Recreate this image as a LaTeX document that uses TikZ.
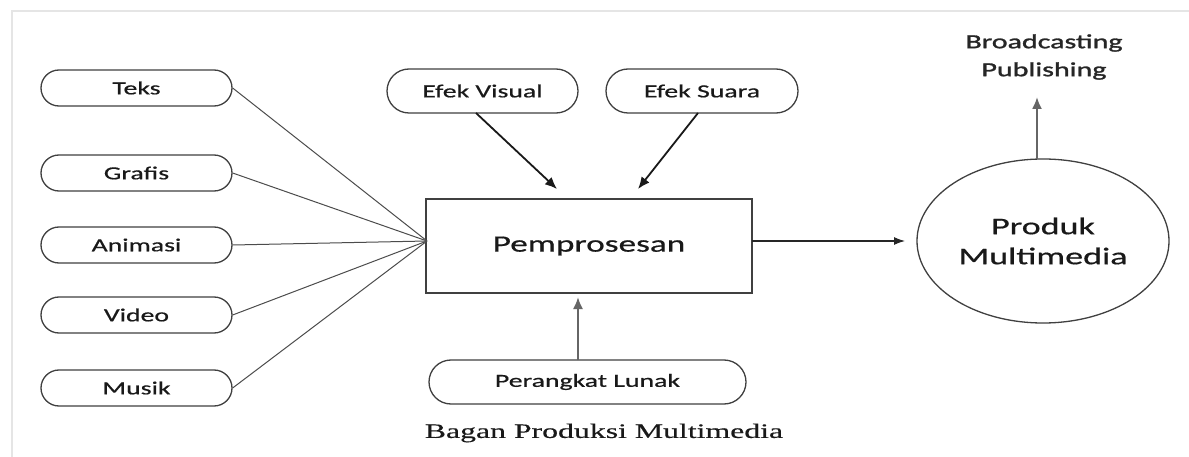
\documentclass[tikz,border=0pt]{standalone}
\usepackage{fontspec}
\setmainfont{Carlito}
\newfontfamily\labfont[FakeStretch=1.5,FakeBold=0.6]{Carlito}
\newfontfamily\headfont[FakeStretch=1.5,FakeBold=1.4]{Carlito}
\newfontfamily\capfont[FakeStretch=1.55,FakeBold=0.4]{Liberation Serif}
\usetikzlibrary{arrows.meta,shapes.geometric}
\begin{document}
\begin{tikzpicture}[x=1pt,y=-1pt,
  pill/.style={draw=black!75, line width=1.3pt, rounded corners=18pt,
    minimum width=191pt, minimum height=36pt, inner sep=0pt,
    font=\labfont\fontsize{18.5}{22}\selectfont, text=black!90},
  bigpill/.style={pill, minimum height=44pt, rounded corners=22pt},
  feed/.style={draw=black!70, line width=1pt},
  thickarrow/.style={draw=black!90, line width=1.8pt, -{Latex[length=12pt,width=10pt]}},
  greyarrow/.style={draw=black!60, line width=2pt, -{Latex[length=12pt,width=10pt]}},
  thinarrow/.style={draw=black!85, line width=1.1pt, -{Latex[length=11pt,width=8pt]}}
]
\useasboundingbox (0,0) rectangle (1189,457);
\fill[white] (0,0) rectangle (1189,457);
\draw[black!10, line width=1.5pt] (12,457) -- (12,11) -- (1189,11);

% input nodes
\node[pill] (teks)    at (136.5,88)  {Teks};
\node[pill] (grafis)  at (136.5,173) {Grafis};
\node[pill] (animasi) at (136.5,245) {Animasi};
\node[pill] (video)   at (136.5,315) {Video};
\node[pill] (musik)   at (136.5,388) {Musik};

% processing box
\node[draw=black!75, line width=1.3pt, minimum width=326pt, minimum height=94pt, inner sep=0pt,
      font=\labfont\fontsize{23.5}{28}\selectfont, text=black!90] (proc) at (589,246) {Pemprosesan};
\coordinate (conv) at (427,241);

% effects
\node[bigpill] (ev) at (482.5,91) {Efek Visual};
\node[bigpill, minimum width=192pt] (es) at (702,91) {Efek Suara};
\node[bigpill, minimum width=317pt] (pl) at (587.5,382) {Perangkat Lunak};

% product
\node[ellipse, draw=black!75, line width=1.3pt, minimum width=252pt, minimum height=164pt, inner sep=0pt,
      align=center, font=\labfont\fontsize{24}{30}\selectfont, text=black!90] (prod) at (1043,241) {Produk\\Multimedia};
\node[align=center, font=\headfont\fontsize{20}{28}\selectfont, text=black!85] (bp) at (1044,57) {Broadcasting\\Publishing};

% caption
\node[font=\capfont\fontsize{20.5}{24}\selectfont, text=black!90] (cap) at (604,433) {Bagan Produksi Multimedia};

% connectors
\foreach \n in {teks,grafis,animasi,video,musik}
  \draw[feed] (\n.east) -- (conv);

\coordinate (evs) at (476,113);
\coordinate (eve) at (557,189);
\coordinate (ess) at (698,113);
\coordinate (ese) at (638,189);
\coordinate (pls) at (578,360);
\coordinate (ple) at (578,297);
\coordinate (pe)  at (905,241);
\coordinate (ps)  at (752,241);
\coordinate (cs)  at (1037,159);
\coordinate (ce)  at (1037,97);

\draw[thickarrow] (evs) -- (eve);
\draw[thickarrow] (ess) -- (ese);
\draw[greyarrow] (pls) -- (ple);
\draw[thinarrow] (ps) -- (pe);
\draw[greyarrow] (cs) -- (ce);
\end{tikzpicture}
\end{document}
